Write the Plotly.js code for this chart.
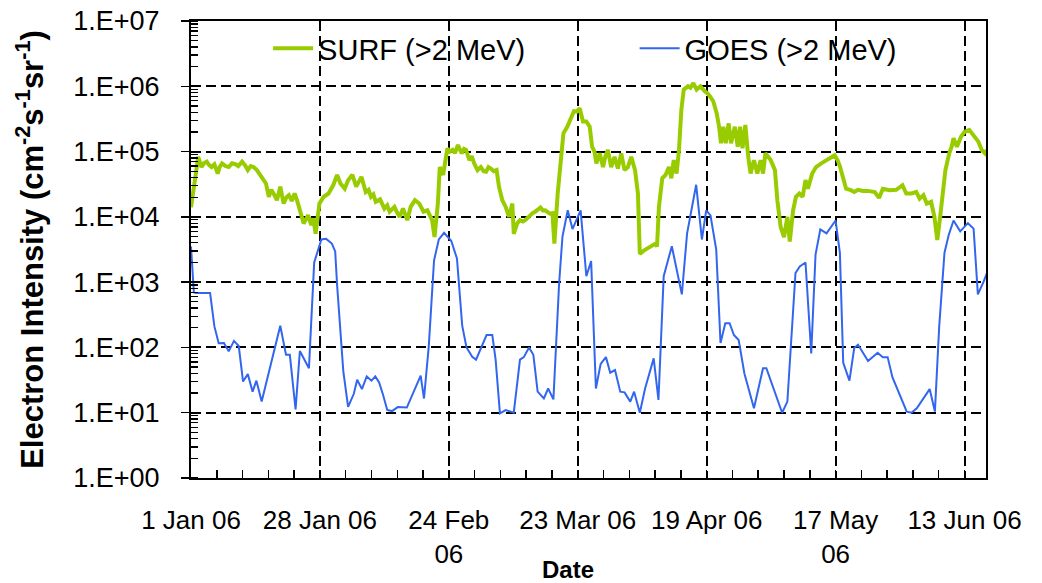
<!DOCTYPE html>
<html>
<head>
<meta charset="utf-8">
<script src="https://cdn.plot.ly/plotly-3.0.1.min.js"></script>
<style>
  html, body { margin: 0; padding: 0; background: #fff; }
  #chart { width: 1042px; height: 583px; }
</style>
</head>
<body>
<div id="chart"></div>
<script>
// Days since 1 Jan 2006 and electron intensity (cm-2 s-1 sr-1)
const surfDays = [0,0.5,1.0,1.5,2.2,2.7,3.3,3.8,4.3,4.9,5.6,6.0,6.5,7.2,7.9,8.6,9.3,9.9,10.7,11.3,11.9,12.5,13.1,13.8,14.5,15.1,15.7,16.3,16.8,17.3,18.0,18.7,19.4,20.0,20.5,21.1,21.7,22.2,22.6,23.1,23.6,24.0,24.5,25.2,25.6,26.1,26.5,26.9,27.8,28.8,29.8,30.6,31.3,32.2,32.9,33.8,34.6,35.2,35.7,36.6,37.2,37.7,38.2,38.7,39.6,40.5,41.1,41.6,42.6,43.2,43.7,44.4,45.3,46.0,46.9,47.8,48.7,49.5,50.5,51.0,51.7,52.1,52.8,53.7,54.2,54.8,55.3,55.9,56.7,57.2,57.6,58.3,58.8,59.3,60.0,60.7,61.3,61.8,62.3,62.8,63.4,64.0,64.5,65.2,65.9,66.6,67.3,67.6,68.3,68.9,69.5,70.0,70.6,71.1,71.6,72.1,72.7,73.2,73.7,74.2,74.7,75.2,75.7,76.1,76.8,77.3,78.0,78.8,79.3,79.7,80.2,80.8,81.4,82.1,82.8,83.5,84.0,84.5,84.9,85.6,86.3,86.8,87.3,88.0,88.7,89.4,90.1,90.8,91.5,92.2,93.0,93.6,94.0,95.0,96.1,97.3,97.6,98.0,98.7,99.4,100.1,100.6,101.1,101.7,102.2,102.7,103.2,104.1,104.6,105.2,105.9,106.7,107.6,108.2,108.7,109.4,110.1,110.6,111.0,111.5,112.0,112.6,113.1,113.9,114.5,115.0,115.5,116.1,116.7,117.2,117.9,118.6,119.3,119.8,120.3,121.4,122.3,122.8,123.5,124.2,124.9,125.4,126.1,126.7,127.4,128.1,128.7,129.2,130.1,130.9,132.0,133.0,134.1,134.8,135.4,135.9,136.5,137.2,138.2,138.9,139.7,140.7,141.8,143.2,144.1,144.9,146.3,147.7,149.0,149.8,150.9,151.9,152.6,153.4,154.1,155.0,155.7,156.3,156.9,157.5,158.0,158.8,159.3,159.7,160.4,161.3,162.0,163.0,163.9,164.9,165.6,166.3,166.7];
const surfValues = [14000,29000,45000,83000,58000,66000,70000,62000,58000,64000,46000,58000,66000,60000,58000,66000,64000,60000,70000,62000,52000,60000,58000,52000,44000,38000,32500,20300,26000,22800,18000,29000,16000,20000,21500,17500,22800,18000,14200,10000,7900,9000,10600,7500,9500,5500,11000,16000,20300,22800,30700,44000,32500,27000,36500,44000,29000,36000,41000,24000,26000,20300,22000,17000,18500,13400,15000,12000,14200,11500,10000,13400,8900,14200,18000,16000,12000,12600,8900,4900,16000,58000,44000,112000,100000,106000,95000,126000,94000,110000,106000,74000,85000,66000,52000,58000,50000,49000,58000,55000,50000,52000,29000,18000,14200,10000,16000,5500,7900,8900,8500,8900,10000,10600,11500,12000,13000,13900,12500,12600,11800,11200,11400,3900,22800,52000,190000,240000,300000,360000,415000,410000,460000,290000,290000,240000,119000,100000,66000,94000,58000,85000,106000,58000,83000,55000,94000,52000,58000,83000,52000,22800,2700,3100,3500,3900,3500,14200,39000,44000,58000,39000,74000,46000,106000,440000,890000,1000000,950000,1120000,890000,1000000,840000,780000,700000,585000,385000,240000,134000,240000,134000,270000,134000,240000,119000,240000,112000,255000,83000,46000,74000,46000,74000,46000,94000,74000,52000,18000,7000,4900,10000,4200,12600,20300,22800,20300,36500,27000,46000,58000,66000,74000,83000,88000,74000,60000,41000,27000,25600,24000,26000,25000,25000,24000,19500,27000,25600,26000,30500,22800,22800,24000,19000,21500,16000,17000,10000,4400,10000,29000,52000,94000,119000,160000,119000,170000,200000,215000,180000,142000,106000,94000,106000];

const goesDays = [0,0.6,1.0,4.0,4.9,5.8,6.9,7.9,9.0,10.0,10.9,11.9,12.9,13.7,14.8,16.8,18.7,19.9,20.7,21.9,22.8,24.7,25.8,27.3,28.3,29.5,30.2,30.6,31.9,32.9,34.1,34.8,35.8,36.8,37.8,38.6,39.4,40.2,41.1,42.1,43.3,45.2,46.8,48.1,48.8,49.8,50.9,51.9,53.0,54.5,55.7,56.8,57.7,58.9,59.7,61.9,63.1,63.8,64.7,65.9,67.6,68.9,69.7,70.8,71.7,72.6,73.9,74.8,75.9,77.1,77.8,78.9,79.9,81.6,82.8,83.8,84.8,85.8,86.9,87.8,88.8,89.9,90.8,92.0,92.8,94.0,95.1,96.9,97.9,99.0,100.7,102.8,103.9,105.8,107.0,107.9,108.8,110.0,110.9,111.9,112.8,113.7,114.7,115.9,117.9,119.8,120.5,122.2,123.8,124.9,126.6,127.5,128.7,129.9,130.8,131.8,133.1,135.0,135.9,136.6,137.9,138.9,139.7,141.8,143.8,144.9,145.9,146.9,148.1,149.9,150.9,152.0,154.7,155.8,156.7,157.8,158.7,159.7,161.1,162.7,163.9,164.8,166.0,166.8];
const goesValues = [3500,700,680,680,210,116,117,87,126,105,30,39,21,31,14.8,58,215,77,77,11.2,88,48,2000,4500,4600,3900,2950,900,43,12.3,19.5,32,23,36,31,36,29,19,11,10.6,12.2,12,22,37,16.5,105,2150,4500,5700,4300,2300,215,100,72,65,155,155,65,9.8,11,10,65,71,100,77,21,16.6,23.5,16,970,5000,12600,6500,12600,1230,2100,23.5,56,71,41,45,21,20.5,14.8,21,10,23.5,68,15.7,1230,3550,650,5600,31000,4500,12600,10500,3150,117,235,235,155,130,40,11.7,48,48,20.5,10,14.8,1380,1740,2000,81,2650,6450,5600,8800,2800,58,31,98,110,62,83,71,71,35,22,10.4,10,11.7,23,10.4,210,2800,5300,8800,6000,8000,6600,650,1020,1440];

const xTickDays = [0,27,54,81,108,135,162];
const xTickLabels = ['1 Jan 06','28 Jan 06','24 Feb<br>06','23 Mar 06','19 Apr 06','17 May<br>06','13 Jun 06'];
const yTickValues = [1,10,100,1000,10000,100000,1000000,10000000];
const yTickLabels = ['1.E+00','1.E+01','1.E+02','1.E+03','1.E+04','1.E+05','1.E+06','1.E+07'];

const seriesNames = ['SURF (>2 MeV)','GOES (>2 MeV)'];
const xTitle = 'Date';
const yTitle = 'Electron Intensity (cm<sup>-2</sup>s<sup>-1</sup>sr<sup>-1</sup>)';
const FONT = 'Liberation Sans, Arial, Helvetica, sans-serif';

const traces = [
  {x: surfDays, y: surfValues, type: 'scatter', mode: 'lines', name: seriesNames[0],
   line: {color: '#99CC00', width: 4}, legend: 'legend'},
  {x: goesDays, y: goesValues, type: 'scatter', mode: 'lines', name: seriesNames[1],
   line: {color: '#3366EE', width: 2}, legend: 'legend2'}
];

const gridStyle = {showgrid: true, gridcolor: '#000', gridwidth: 2, griddash: '10px,5px'};

const layout = {
  width: 1042, height: 583,
  margin: {l: 191, r: 56, t: 21, b: 105, pad: 0},
  paper_bgcolor: '#fff', plot_bgcolor: '#fff',
  font: {family: FONT, color: '#000'},
  xaxis: Object.assign({
    type: 'linear', range: [0, 166.5], automargin: false,
    tickmode: 'array', tickvals: xTickDays, ticktext: xTickLabels,
    showline: true, linecolor: '#000', linewidth: 2, mirror: true,
    ticks: 'inside', ticklen: 8, tickwidth: 1.5, tickcolor: '#000',
    minor: {tickmode: 'linear', dtick: 5.4, tick0: 0, ticks: 'inside', ticklen: 8, tickwidth: 1.5, tickcolor: '#000', showgrid: false},
    zeroline: false, tickfont: {size: 26, color: '#000', family: FONT},
    ticklabelstandoff: 18
  }, gridStyle),
  yaxis: Object.assign({
    type: 'log', range: [0, 7], automargin: false,
    tickmode: 'array', tickvals: yTickValues, ticktext: yTickLabels,
    showline: true, linecolor: '#000', linewidth: 2, mirror: true,
    ticks: 'outside', ticklen: 8, tickwidth: 1.5, tickcolor: '#000',
    minor: {dtick: 'D1', ticks: 'inside', ticklen: 7, tickwidth: 1.3, tickcolor: '#000', showgrid: false},
    zeroline: false, tickfont: {size: 27, color: '#000', family: FONT},
    ticklabelstandoff: 16,
    title: {text: '<b>' + yTitle + '</b>', font: {size: 31, color: '#000', family: FONT}, standoff: 20}
  }, gridStyle),
  annotations: [
    {text: '<b>' + xTitle + '</b>', xref: 'paper', yref: 'paper', x: (568 - 191) / 795, y: -0.2,
     xanchor: 'center', yanchor: 'middle', showarrow: false,
     font: {size: 24, color: '#000', family: FONT}}
  ],
  legend: {x: 0.097, y: 0.94, xanchor: 'left', yanchor: 'middle', bgcolor: 'rgba(0,0,0,0)',
           font: {size: 29, color: '#000', family: FONT}, itemwidth: 40, borderwidth: 0},
  legend2: {x: 0.558, y: 0.94, xanchor: 'left', yanchor: 'middle', bgcolor: 'rgba(0,0,0,0)',
           font: {size: 29, color: '#000', family: FONT}, itemwidth: 40, borderwidth: 0},
  showlegend: true
};

Plotly.newPlot('chart', traces, layout, {staticPlot: true, displayModeBar: false});
</script>
</body>
</html>
